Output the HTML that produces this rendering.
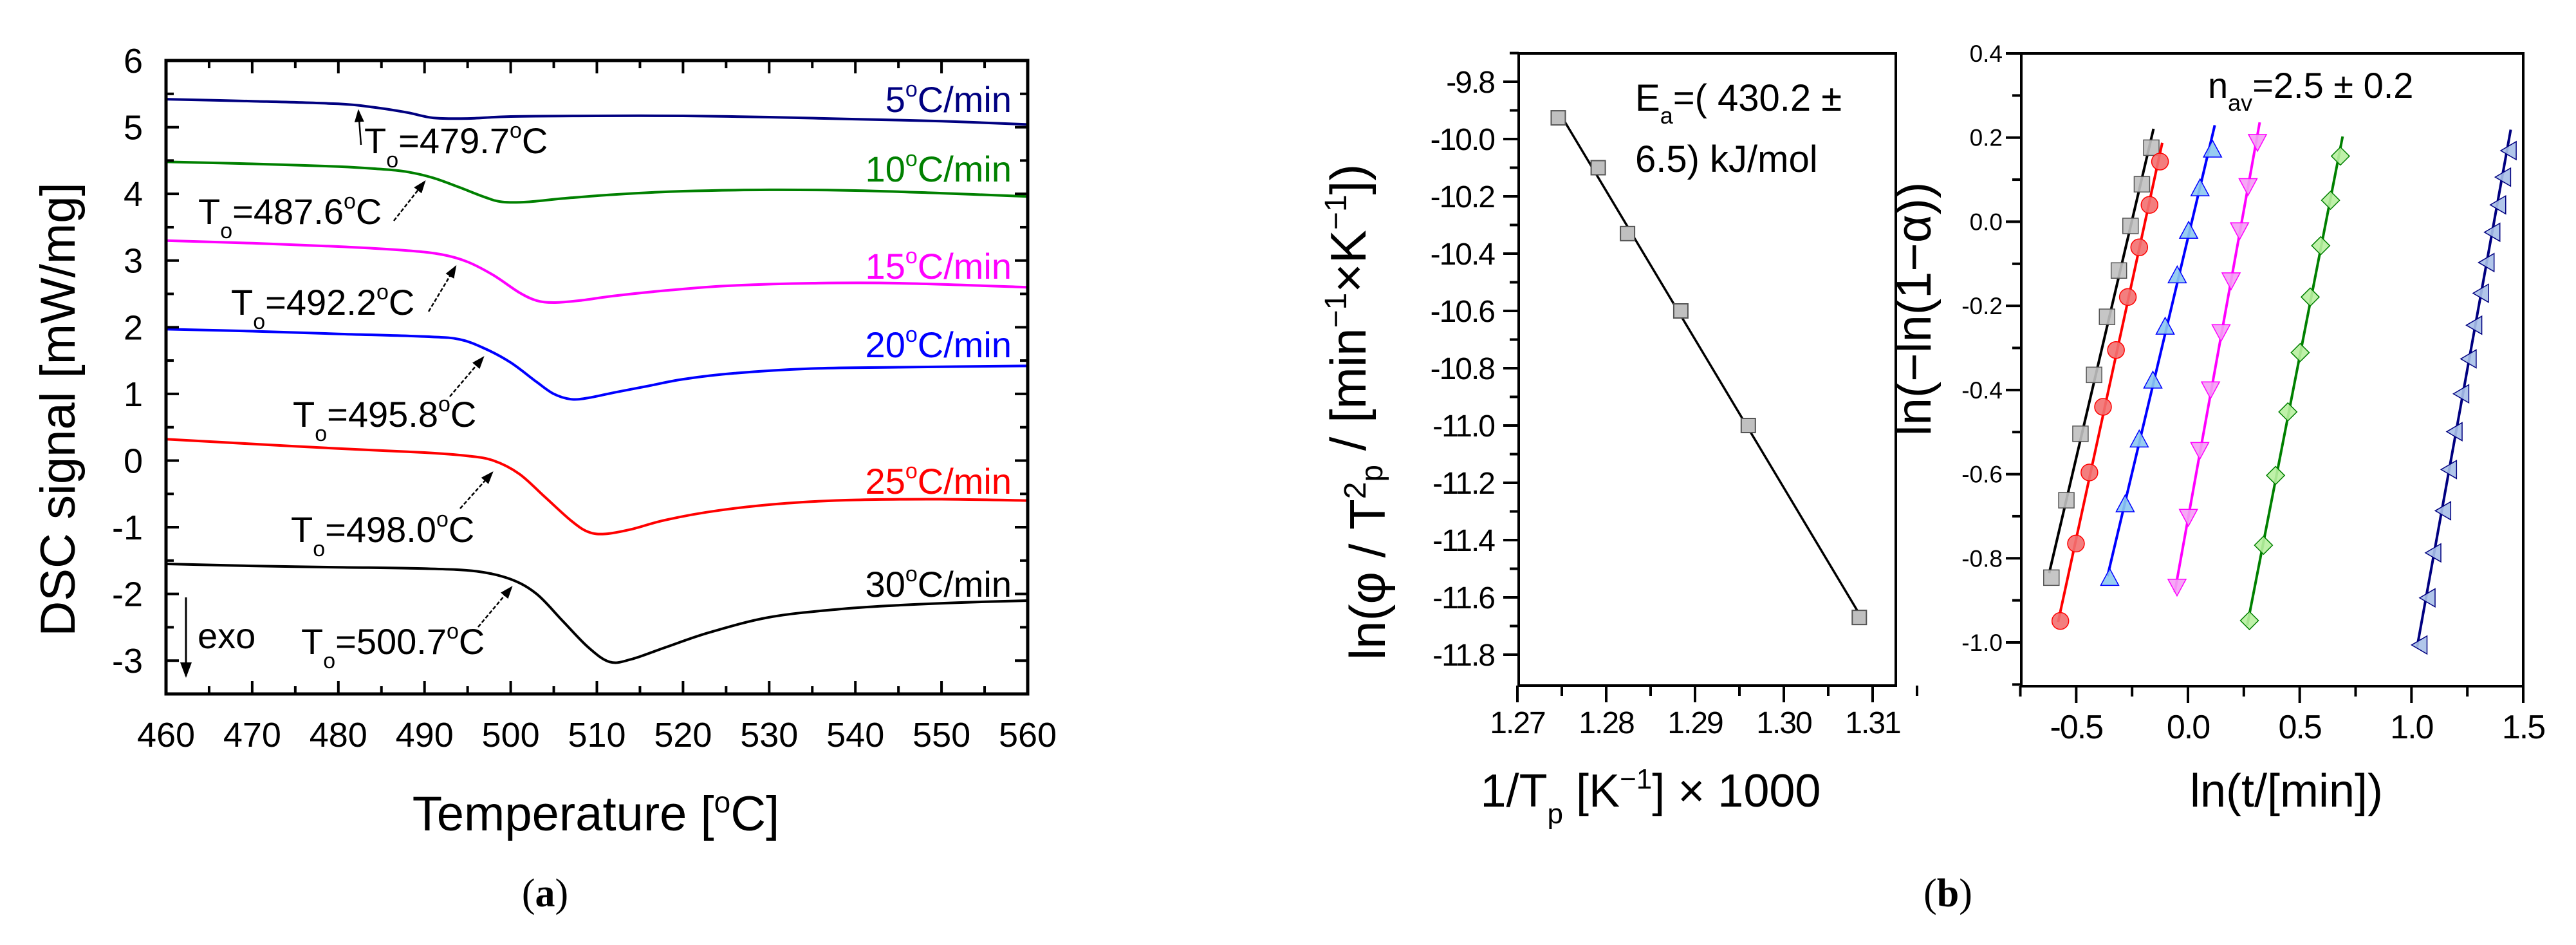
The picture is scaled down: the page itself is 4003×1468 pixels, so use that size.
<!DOCTYPE html>
<html><head><meta charset="utf-8"><title>DSC and kinetics</title>
<style>
html,body{margin:0;padding:0;background:#fff;}
svg{display:block;font-family:"Liberation Sans",sans-serif;}
</style></head>
<body>
<svg id="fig" width="4003" height="1468" viewBox="0 0 4003 1468" xmlns="http://www.w3.org/2000/svg">
<rect x="0" y="0" width="4003" height="1468" fill="#fff"/>
<g id="pa"></g>
<g id="pb1"></g>
<g id="pb2"></g>
<text x="847" y="1408" font-family="Liberation Serif,serif" font-size="62" text-anchor="middle">(<tspan font-weight="bold">a</tspan>)</text>
<text x="3027" y="1408" font-family="Liberation Serif,serif" font-size="62" text-anchor="middle">(<tspan font-weight="bold">b</tspan>)</text>
</svg>
<script>
// ---------- Panel (a) data ----------
const dscRates = ["5","10","15","20","25","30"];
const dscColors = ["#000080","#008000","#ff00ff","#0000ff","#ff0000","#000000"];
const dscT = [
 [460,470,480,484,488,491,495,500,510,520,530,540,550,560],
 [460,470,480,485,488,491,494,497,499,502,506,512,520,530,540,550,560],
 [460,470,480,488,492,495,498,501,503,505,508,512,518,525,535,545,560],
 [460,470,480,490,494,497,500,503,505,507,509,512,516,520,526,535,545,560],
 [460,470,480,490,495,498,501,504,507,509,511,514,518,524,532,540,550,560],
 [460,470,480,490,496,500,503,506,509,511.5,514,518,523,530,538,545,552,560]
];
const dscY = [
 [5.42,5.39,5.35,5.30,5.22,5.14,5.13,5.16,5.17,5.17,5.15,5.12,5.09,5.04],
 [4.48,4.45,4.41,4.37,4.33,4.24,4.10,3.95,3.88,3.88,3.93,3.99,4.04,4.06,4.05,4.01,3.96],
 [3.30,3.26,3.21,3.15,3.09,2.98,2.78,2.52,2.40,2.37,2.40,2.47,2.55,2.62,2.66,2.66,2.60],
 [1.97,1.94,1.90,1.86,1.82,1.68,1.47,1.18,1.00,0.92,0.94,1.02,1.12,1.22,1.31,1.38,1.40,1.42],
 [0.32,0.25,0.18,0.12,0.07,0.00,-0.20,-0.55,-0.90,-1.07,-1.10,-1.03,-0.89,-0.75,-0.64,-0.59,-0.58,-0.60],
 [-1.55,-1.58,-1.60,-1.62,-1.66,-1.78,-2.00,-2.40,-2.80,-3.02,-2.98,-2.80,-2.58,-2.35,-2.23,-2.17,-2.13,-2.10]
];
const onsetLabels = ["479.7","487.6","492.2","495.8","498.0","500.7"];
const xTicksA = [460,470,480,490,500,510,520,530,540,550,560];
const yTicksA = [-3,-2,-1,0,1,2,3,4,5,6];

// ---------- Panel (b) left data ----------
const invTp = [1.2746,1.2791,1.2824,1.2884,1.2960,1.3085];
const lnPhi = [-9.926,-10.10,-10.33,-10.60,-11.00,-11.67];
const xTicksB1 = [1.27,1.28,1.29,1.30,1.31];
const yTicksB1 = [-9.8,-10.0,-10.2,-10.4,-10.6,-10.8,-11.0,-11.2,-11.4,-11.6,-11.8];

// ---------- Panel (b) right data ----------
const avX0 = [-0.611,-0.544,-0.481,-0.420,-0.362,-0.309,-0.257,-0.206,-0.164];
const avY0 = [-0.846,-0.662,-0.504,-0.364,-0.226,-0.116,-0.010,0.089,0.176];
const avX1 = [-0.571,-0.501,-0.441,-0.380,-0.322,-0.269,-0.218,-0.172,-0.125];
const avY1 = [-0.949,-0.765,-0.596,-0.440,-0.305,-0.179,-0.061,0.040,0.143];
const avX2 = [-0.350,-0.281,-0.218,-0.157,-0.102,-0.048,0.003,0.054,0.110];
const avY2 = [-0.846,-0.671,-0.517,-0.377,-0.249,-0.127,-0.021,0.080,0.172];
const avX3 = [-0.049,0.002,0.053,0.101,0.148,0.193,0.231,0.269,0.311];
const avY3 = [-0.868,-0.702,-0.543,-0.399,-0.263,-0.140,-0.021,0.084,0.189];
const avX4 = [0.275,0.338,0.392,0.447,0.502,0.547,0.594,0.638,0.682];
const avY4 = [-0.948,-0.769,-0.603,-0.452,-0.311,-0.179,-0.057,0.051,0.156];
const avX5 = [1.035,1.071,1.097,1.141,1.167,1.192,1.222,1.255,1.280,1.310,1.335,1.361,1.387,1.409,1.434];
const avY5 = [-1.006,-0.894,-0.787,-0.687,-0.589,-0.499,-0.409,-0.326,-0.246,-0.170,-0.097,-0.025,0.040,0.106,0.169];
const xTicksB2 = [-0.5,0.0,0.5,1.0,1.5];
const yTicksB2 = [0.4,0.2,0.0,-0.2,-0.4,-0.6,-0.8,-1.0];

const NS = "http://www.w3.org/2000/svg";
function mk(parent, tag, attrs, txt){
  const e = document.createElementNS(NS, tag);
  for (const k in attrs) e.setAttribute(k, attrs[k]);
  if (txt !== undefined) e.textContent = txt;
  parent.appendChild(e);
  return e;
}
function lin(d0,d1,r0,r1){ return v => r0 + (v-d0)*(r1-r0)/(d1-d0); }
function smoothPath(pts){
  let d = "M"+pts[0][0].toFixed(1)+","+pts[0][1].toFixed(1);
  for (let i=0;i<pts.length-1;i++){
    const p0=pts[Math.max(0,i-1)], p1=pts[i], p2=pts[i+1], p3=pts[Math.min(pts.length-1,i+2)];
    const c1=[p1[0]+(p2[0]-p0[0])/6, p1[1]+(p2[1]-p0[1])/6];
    const c2=[p2[0]-(p3[0]-p1[0])/6, p2[1]-(p3[1]-p1[1])/6];
    d += " C"+c1[0].toFixed(1)+","+c1[1].toFixed(1)+" "+c2[0].toFixed(1)+","+c2[1].toFixed(1)+" "+p2[0].toFixed(1)+","+p2[1].toFixed(1);
  }
  return d;
}
function fit(xs, ys){
  const n=xs.length; let sx=0,sy=0,sxx=0,sxy=0;
  for(let i=0;i<n;i++){sx+=xs[i];sy+=ys[i];sxx+=xs[i]*xs[i];sxy+=xs[i]*ys[i];}
  const b=(n*sxy-sx*sy)/(n*sxx-sx*sx); return [ (sy-b*sx)/n, b ];
}

// ================= Panel A =================
(function(){
  const g = document.getElementById("pa");
  const L=258,R=1597,T=94,B=1078;
  const xs = lin(460,560,L,R), ys = lin(6,-3.5,T,B);
  const clip = mk(g,"clipPath",{id:"clipA"}); mk(clip,"rect",{x:L,y:T,width:R-L,height:B-T});
  for (let i=0;i<dscRates.length;i++){
    const pts = dscT[i].map((t,j)=>[xs(t), ys(dscY[i][j])]);
    const p = mk(g,"path",{d:smoothPath(pts),fill:"none",stroke:dscColors[i],"stroke-width":4,"clip-path":"url(#clipA)"});
    
    
  }
  // frame
  const fr = mk(g,"rect",{x:L,y:T,width:R-L,height:B-T,fill:"none",stroke:"#000","stroke-width":5});
  
  
  // ticks
  for (let v=460; v<=560; v+=5){
    const major = v%10===0, len = major?20:12, x=xs(v);
    mk(g,"line",{x1:x,y1:B,x2:x,y2:B-len,stroke:"#000","stroke-width":4});
    mk(g,"line",{x1:x,y1:T,x2:x,y2:T+len,stroke:"#000","stroke-width":4});
  }
  for (let v=-3.5; v<=6; v+=0.5){
    const major = Math.abs(v-Math.round(v))<1e-6, len = major?20:12, y=ys(v);
    mk(g,"line",{x1:L,y1:y,x2:L+len,y2:y,stroke:"#000","stroke-width":4});
    mk(g,"line",{x1:R,y1:y,x2:R-len,y2:y,stroke:"#000","stroke-width":4});
  }
  xTicksA.forEach(v=>{
    const t = mk(g,"text",{x:xs(v),y:1160,"font-size":54,"text-anchor":"middle"},String(v));
    
    
  });
  yTicksA.forEach(v=>{
    const t = mk(g,"text",{x:222,y:ys(v)+19,"font-size":54,"text-anchor":"end"},v<0?"-"+Math.abs(v):String(v));
    
    
  });
  const xt = mk(g,"text",{x:926,y:1290,"font-size":76,"text-anchor":"middle"});
  
  
  xt.innerHTML = 'Temperature [<tspan dy="-28" font-size="46">o</tspan><tspan dy="28">C]</tspan>';
  const yt = mk(g,"text",{x:0,y:0,"font-size":76,"text-anchor":"middle",transform:"translate(116,636) rotate(-90)"},"DSC signal [mW/mg]");
  
  
  // rate labels
  const rateY = [174,282,433,555,767,927];
  for (let i=0;i<dscRates.length;i++){
    const t = mk(g,"text",{x:1572,y:rateY[i],"font-size":56,"text-anchor":"end",fill:dscColors[i]});
    t.innerHTML = dscRates[i]+'<tspan dy="-24" font-size="34">o</tspan><tspan dy="24">C/min</tspan>';
    
    
  }
  // onset annotations
  const annPos = [[566,238],[308,348],[359,489],[455,663],[452,842],[468,1016]];
  const arrows = [[561,225,557,172],[612,343,660,282],[666,484,708,414],[699,616,751,555],[715,790,765,734],[743,974,795,912]];
  const defs = mk(g,"defs",{});
  const mkr = mk(defs,"marker",{id:"ah",markerWidth:8,markerHeight:8,refX:7,refY:4,orient:"auto",markerUnits:"strokeWidth"});
  mk(mkr,"path",{d:"M0,1 L8,4 L0,7 Z",fill:"#000"});
  for (let i=0;i<6;i++){
    const [x,y]=annPos[i];
    const t = mk(g,"text",{x:x,y:y,"font-size":56});
    t.innerHTML = 'T<tspan dy="22" font-size="34">o</tspan><tspan dy="-22">=' + onsetLabels[i] + '</tspan><tspan dy="-24" font-size="34">o</tspan><tspan dy="24">C</tspan>';
    
    
    const a = arrows[i];
    const ln = mk(g,"line",{x1:a[0],y1:a[1],x2:a[2],y2:a[3],stroke:"#000","stroke-width":2.5,"stroke-dasharray":i===0?"none":"6,3","marker-end":"url(#ah)"});
    
    
  }
  const ex = mk(g,"line",{x1:289,y1:928,x2:289,y2:1050,stroke:"#000","stroke-width":3,"marker-end":"url(#ah)"});
  
  
  const et = mk(g,"text",{x:307,y:1007,"font-size":56},"exo");
  
  
})();

// ================= Panel B1 =================
(function(){
  const g = document.getElementById("pb1");
  const L=2360,R=2946,T=83,B=1065;
  const xs = lin(1.27,1.31,2358,2910), ys = lin(-9.8,-11.8,127,1017);
  const [a,b] = fit(invTp, lnPhi);
  const x0=invTp[0], x1=invTp[invTp.length-1];
  const fl = mk(g,"line",{x1:xs(x0),y1:ys(a+b*x0),x2:xs(x1),y2:ys(a+b*x1),stroke:"#000","stroke-width":3.5});
  
  
  for (let i=0;i<invTp.length;i++){
    const r = mk(g,"rect",{x:xs(invTp[i])-11,y:ys(lnPhi[i])-11,width:22,height:22,fill:"#c0c0c0",stroke:"#555","stroke-width":2});
    
    
  }
  const fr = mk(g,"rect",{x:L,y:T,width:R-L,height:B-T,fill:"none",stroke:"#000","stroke-width":4});
  
  
  for (let k=0;k<=9;k++){
    const v=1.27+k*0.005, x=xs(v), len=(k%2===0)?26:16;
    mk(g,"line",{x1:x,y1:B,x2:x,y2:B+len,stroke:"#000","stroke-width":4});
  }
  for (let k=0;k<=21;k++){
    const v=-9.7-k*0.1, y=ys(v), len=(k%2===1)?24:14;
    mk(g,"line",{x1:L,y1:y,x2:L-len,y2:y,stroke:"#000","stroke-width":4});
  }
  xTicksB1.forEach(v=>{
    const t = mk(g,"text",{x:xs(v),y:1139,"font-size":48,"text-anchor":"middle","letter-spacing":"-2"},v.toFixed(2));
    
    
  });
  yTicksB1.forEach(v=>{
    const t = mk(g,"text",{x:2322,y:ys(v)+17,"font-size":48,"text-anchor":"end","letter-spacing":"-2"},v.toFixed(1));
    
    
  });
  const ea = mk(g,"text",{x:2541,y:172,"font-size":58});
  ea.innerHTML = 'E<tspan dy="20" font-size="36">a</tspan><tspan dy="-20">=( 430.2 ±</tspan>';
  
  
  const ea2 = mk(g,"text",{x:2541,y:267,"font-size":58},"6.5) kJ/mol");
  
  
  const xt = mk(g,"text",{x:2565,y:1253,"font-size":72,"text-anchor":"middle"});
  xt.innerHTML = '1/T<tspan dy="26" font-size="44">p</tspan><tspan dy="-26"> [K</tspan><tspan dy="-28" font-size="44">−1</tspan><tspan dy="28">] × 1000</tspan>';
  
  
  const yt = mk(g,"text",{x:0,y:0,"font-size":78,"text-anchor":"middle",transform:"translate(2152,640) rotate(-90)"});
  yt.innerHTML = 'ln(φ / T<tspan dy="-30" font-size="48">2</tspan><tspan dy="30"></tspan><tspan dy="26" font-size="48">p</tspan><tspan dy="-26"> / [min</tspan><tspan dy="-30" font-size="48">−1</tspan><tspan dy="30">×K</tspan><tspan dy="-30" font-size="48">−1</tspan><tspan dy="30">])</tspan>';
  
  
})();

// ================= Panel B2 =================
(function(){
  const g = document.getElementById("pb2");
  const L=3141,R=3921,T=83,B=1066;
  const xs = lin(0,1.5,3400,3921), ys = lin(0.4,-1.0,83,998);
  const seriesX=[avX0,avX1,avX2,avX3,avX4,avX5];
  const seriesY=[avY0,avY1,avY2,avY3,avY4,avY5];
  const lineCol=["#000","#ff0000","#0000ff","#ff00ff","#008000","#000080"];
  const fillCol=["#c0c0c0","#f27070","#8cc8f0","#f4a0f4","#b8f0a0","#a8c0e8"];
  const shapes=["square","circle","up","down","diamond","left"];
  for (let s=0;s<6;s++){
    const X=seriesX[s], Y=seriesY[s];
    const [a,b]=fit(X,Y);
    const x0=X[0]-0.01, x1=X[X.length-1]+0.01;
    const ln = mk(g,"line",{x1:xs(x0),y1:ys(a+b*x0),x2:xs(x1),y2:ys(a+b*x1),stroke:lineCol[s],"stroke-width":4});
    
    
    for (let i=0;i<X.length;i++){
      const cx=xs(X[i]), cy=ys(Y[i]), r=12; let m;
      const st={fill:fillCol[s],stroke:lineCol[s]==="#000"?"#555":lineCol[s],"stroke-width":1.5,"fill-opacity":0.9};
      if (shapes[s]==="square") m=mk(g,"rect",Object.assign({x:cx-r,y:cy-r,width:2*r,height:2*r},st));
      else if (shapes[s]==="circle") m=mk(g,"circle",Object.assign({cx:cx,cy:cy,r:r+1},st));
      else {
        let p;
        if (shapes[s]==="up") p=[[cx,cy-r-2],[cx+r+2,cy+r],[cx-r-2,cy+r]];
        else if (shapes[s]==="down") p=[[cx-r-2,cy-r],[cx+r+2,cy-r],[cx,cy+r+2]];
        else if (shapes[s]==="diamond") p=[[cx,cy-r-2],[cx+r+2,cy],[cx,cy+r+2],[cx-r-2,cy]];
        else p=[[cx-r,cy],[cx+r,cy-r-2],[cx+r,cy+r+2]];
        m=mk(g,"polygon",Object.assign({points:p.map(q=>q.join(",")).join(" ")},st));
      }
      
      
    }
  }
  const fr = mk(g,"rect",{x:L,y:T,width:R-L,height:B-T,fill:"none",stroke:"#000","stroke-width":4});
  
  
  for (let k=0;k<=9;k++){
    const v=-0.75+k*0.25, x=xs(v), len=(k%2===1)?26:16;
    mk(g,"line",{x1:x,y1:B,x2:x,y2:B+len,stroke:"#000","stroke-width":4});
  }
  for (let k=0;k<=15;k++){
    const v=0.4-k*0.1, y=ys(v), len=(k%2===0)?24:14;
    mk(g,"line",{x1:L,y1:y,x2:L-len,y2:y,stroke:"#000","stroke-width":4});
  }
  xTicksB2.forEach(v=>{
    const t = mk(g,"text",{x:xs(v),y:1147,"font-size":52,"text-anchor":"middle","letter-spacing":"-2"},v<0?"-"+Math.abs(v).toFixed(1):v.toFixed(1));
    
    
  });
  yTicksB2.forEach(v=>{
    const t = mk(g,"text",{x:3112,y:ys(v)+13,"font-size":37,"text-anchor":"end"},v<0?"-"+Math.abs(v).toFixed(1):v.toFixed(1));
    
    
  });
  const nt = mk(g,"text",{x:3431,y:152,"font-size":56});
  nt.innerHTML = 'n<tspan dy="20" font-size="36">av</tspan><tspan dy="-20">=2.5 ± 0.2</tspan>';
  
  
  const xt = mk(g,"text",{x:3553,y:1253,"font-size":72,"text-anchor":"middle"},"ln(t/[min])");
  
  
  const yt = mk(g,"text",{x:0,y:0,"font-size":76,"text-anchor":"middle",transform:"translate(3000,480) rotate(-90)"},"ln(−ln(1−α))");
  
  
})();
</script>
</body></html>
